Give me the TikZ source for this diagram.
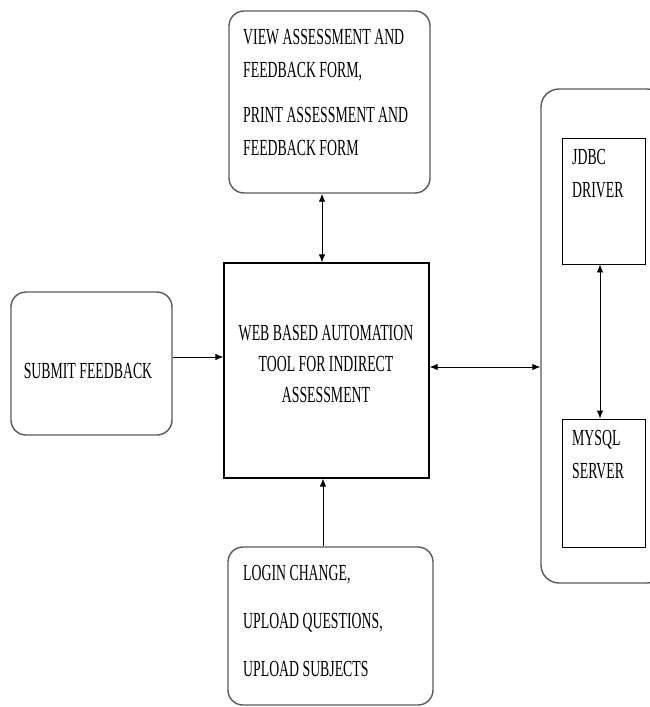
\documentclass[tikz,border=0pt]{standalone}
\usepackage{fontspec}
\newfontfamily\narrowserif[FakeStretch=0.6]{Liberation Serif}
\usetikzlibrary{arrows.meta}

\begin{document}
\begin{tikzpicture}[x = 1pt, y = -1pt, >={Latex[length=8pt, width=6.5pt]}]
    \tikzset{
        softbox/.style={draw=black!65, line width=1.4pt, rounded corners=15pt, inner sep=0pt},
        plainbox/.style={draw=black, line width=0.9pt, inner sep=0pt},
        boxtext/.style={font=\narrowserif\fontsize{23}{33}\selectfont, inner sep=0pt, text=black},
        arrowline/.style={line width=0.9pt}
    }
    \useasboundingbox (0,0) rectangle (650,707);

    % frames
    \node [softbox, minimum width=201, minimum height=182] (view) at (329.5,102) {};
    \node [plainbox, line width=1.2pt, minimum width=205, minimum height=215] (tool) at (326.5,370.5) {};
    \node [softbox, minimum width=161, minimum height=143] (submit) at (91.5,363.5) {};
    \node [softbox, minimum width=205, minimum height=158] (login) at (330.5,626) {};
    \node [softbox, rounded corners=18pt, minimum width=124, minimum height=494] (store) at (603,336) {};
    \node [plainbox, minimum width=83, minimum height=126] (jdbc) at (603.5,201) {};
    \node [plainbox, minimum width=83, minimum height=128] (mysql) at (603.5,483) {};

    % texts
    \node [boxtext, anchor=north west, align=left] (viewtext) at (243,29.5)
        {VIEW ASSESSMENT AND\\FEEDBACK FORM,\\[12pt]PRINT ASSESSMENT AND\\FEEDBACK FORM};
    \node [boxtext, font=\narrowserif\fontsize{23}{31}\selectfont, align=center] (tooltext) at (326,364)
        {WEB BASED AUTOMATION\\TOOL FOR INDIRECT\\ASSESSMENT};
    \node [boxtext] (submittext) at (88,371) {SUBMIT FEEDBACK};
    \node [boxtext, anchor=north west, align=left] (logintext) at (243,565.5)
        {LOGIN CHANGE,\\[15pt]UPLOAD QUESTIONS,\\[15pt]UPLOAD SUBJECTS};
    \node [boxtext, anchor=north west, align=left] (jdbctext) at (572,149.5) {JDBC\\DRIVER};
    \node [boxtext, anchor=north west, align=left] (mysqltext) at (572,430.5) {MYSQL\\SERVER};

    % connectors
    \draw [<->, arrowline] ([xshift=-7.5]view.south) -- ([xshift=-7.5]view.south |- tool.north);
    \draw [->, arrowline] ([yshift=6.5]submit.east) -- ([yshift=6.5]submit.east -| tool.west);
    \draw [<->, arrowline] ([yshift=3.5]tool.east) -- ([yshift=3.5]tool.east -| store.west);
    \draw [->, arrowline] ([xshift=-7.5]login.north) -- ([xshift=-7.5]login.north |- tool.south);
    \draw [<->, arrowline] ([xshift=-3.5]jdbc.south) -- ([xshift=-3.5]jdbc.south |- mysql.north);
\end{tikzpicture}
\end{document}
